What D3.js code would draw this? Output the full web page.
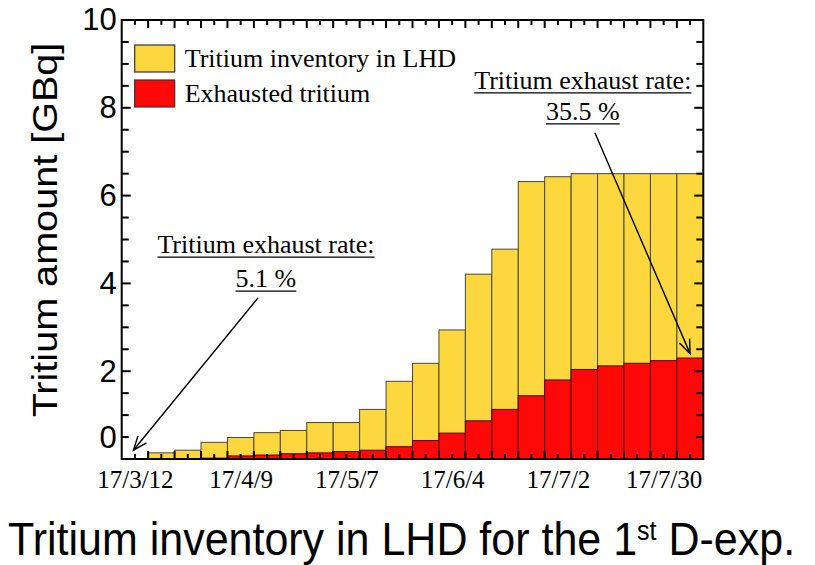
<!DOCTYPE html>
<html>
<head>
<meta charset="utf-8">
<script src="https://cdn.jsdelivr.net/npm/d3@7"></script>
<style>
  body { margin: 0; background: #fff; }
  svg { display: block; }
  .serif { font-family: "Liberation Serif", "Times New Roman", serif; }
  .sans { font-family: "Liberation Sans", Arial, sans-serif; }
</style>
</head>
<body>
<svg id="chart"></svg>
<script>
// centre date of every weekly bar
const weeks = ["2017-03-12", "2017-03-19", "2017-03-26", "2017-04-02", "2017-04-09", "2017-04-16",
    "2017-04-23", "2017-04-30", "2017-05-07", "2017-05-14", "2017-05-21", "2017-05-28",
    "2017-06-04", "2017-06-11", "2017-06-18", "2017-06-25", "2017-07-02", "2017-07-09",
    "2017-07-16", "2017-07-23", "2017-07-30", "2017-08-06"];
// GBq
const inventory = [0, 0.14, 0.2, 0.38, 0.49, 0.6, 0.65, 0.83, 0.83, 1.13, 1.77,
    2.18, 2.94, 4.21, 4.78, 6.32, 6.43, 6.5, 6.5, 6.5, 6.5, 6.5];
const exhausted = [0, 0, 0, 0.02, 0.07, 0.09, 0.12, 0.14, 0.17, 0.2, 0.28,
    0.42, 0.59, 0.87, 1.13, 1.44, 1.8, 2.04, 2.12, 2.18, 2.24, 2.3];

const yTicks = [0, 2, 4, 6, 8, 10];
const xTickDates = ["2017-03-12", "2017-04-09", "2017-05-07", "2017-06-04", "2017-07-02", "2017-07-30"];
const xTickLabels = ["17/3/12", "17/4/9", "17/5/7", "17/6/4", "17/7/2", "17/7/30"];
const legendLabels = ["Tritium inventory in LHD", "Exhausted tritium"];
const noteLines = [["Tritium exhaust rate:", "5.1 %"], ["Tritium exhaust rate:", "35.5 %"]];
const caption = ["Tritium inventory in LHD for the 1", "st", " D-exp."];

const DAY = 864e5;
const parse = d3.utcParse("%Y-%m-%d");
const colors = { inv: "#fdd73e", exh: "#ff0808", edge: "#48483a" };

function getConfig() {
    let width = 815;
    let height = 565;
    let margin = { top: 20, bottom: 106, left: 121.7, right: 111.7 };
    let bodyWidth = width - margin.left - margin.right;
    let bodyHeight = height - margin.top - margin.bottom;
    let container = d3.select('#chart')
        .attr('width', width)
        .attr('height', height);
    return { width, height, margin, bodyWidth, bodyHeight, container };
}

function getScales(data, config) {
    let first = data[0].date.getTime(), last = data[data.length - 1].date.getTime();
    let xScale = d3.scaleUtc()
        .domain([first - 3.5 * DAY, last + 3.5 * DAY])
        .range([0, config.bodyWidth]);
    let yScale = d3.scaleLinear()
        .domain([0, 10])
        .range([config.bodyHeight, 0]);
    return { xScale, yScale };
}

function drawBars(data, scales, body) {
    let { xScale, yScale } = scales;
    let bx = d => xScale(d.date.getTime() - 3.5 * DAY);
    let bw = d => xScale(d.date.getTime() + 3.5 * DAY) - bx(d);

    body.selectAll('.inv')
        .data(data.filter(d => d.inv > 0))
        .enter().append('rect')
        .attr('class', 'inv')
        .attr('x', bx).attr('width', bw)
        .attr('y', d => yScale(d.inv))
        .attr('height', d => yScale(0) - yScale(d.inv))
        .attr('fill', colors.inv)
        .attr('stroke', colors.edge).attr('stroke-width', 1);

    body.selectAll('.exh')
        .data(data.filter(d => d.exh > 0))
        .enter().append('rect')
        .attr('class', 'exh')
        .attr('x', bx).attr('width', bw)
        .attr('y', d => yScale(d.exh))
        .attr('height', d => yScale(0) - yScale(d.exh))
        .attr('fill', colors.exh)
        .attr('stroke', '#500').attr('stroke-width', 1);
}

function drawAxes(data, scales, config, body) {
    let { xScale, yScale } = scales;
    let { bodyWidth, bodyHeight } = config;

    // frame
    body.append('rect')
        .attr('width', bodyWidth).attr('height', bodyHeight)
        .attr('fill', 'none').attr('stroke', '#000').attr('stroke-width', 2);

    // labels
    body.append('g')
        .attr('transform', `translate(0,${bodyHeight})`)
        .call(d3.axisBottom(xScale)
            .tickValues(xTickDates.map(parse))
            .tickSize(0).tickPadding(11)
            .tickFormat((d, i) => xTickLabels[i]))
        .call(g => g.select('.domain').remove())
        .selectAll('text')
        .attr('class', 'serif')
        .attr('font-size', 25)
        .attr('fill', '#000');

    body.append('g')
        .call(d3.axisLeft(yScale).tickValues(yTicks).tickSize(0).tickPadding(5))
        .call(g => g.select('.domain').remove())
        .selectAll('text')
        .attr('class', 'sans')
        .attr('font-size', 31)
        .attr('fill', '#000')
        .attr('dy', d => d === 0 ? '-0.38em' : '0.32em');
}

// inward tick marks on all four sides, drawn as small filled rects
function drawTickMarks(scales, config, body) {
    let { xScale, yScale } = scales;
    let { bodyWidth, bodyHeight } = config;
    let [d0, d1] = xScale.domain().map(Number);
    let n = Math.round((d1 - d0) / (3.5 * DAY));

    // half-week ticks: bar edges long, bar centres short
    let xMarks = d3.range(1, n).map(i => ({ t: d0 + i * 3.5 * DAY, len: i % 2 === 0 ? 8 : 5 }));
    let xt = body.append('g').attr('class', 'x-marks');
    xt.selectAll('.xb').data(xMarks).enter().append('rect')
        .attr('class', 'xb')
        .attr('x', d => xScale(d.t) - 1).attr('width', 2)
        .attr('y', d => bodyHeight - d.len).attr('height', d => d.len)
        .attr('fill', '#000');
    xt.selectAll('.xtop').data(xMarks).enter().append('rect')
        .attr('class', 'xtop')
        .attr('x', d => xScale(d.t) - 1).attr('width', 2)
        .attr('y', 0).attr('height', d => d.len)
        .attr('fill', '#000');

    // every 0.5 GBq, longer at the labelled values
    let yMarks = d3.range(1, 20).map(i => ({ v: i * 0.5, len: i % 4 === 0 ? 9 : 7 }));
    let yt = body.append('g').attr('class', 'y-marks');
    yt.selectAll('.yl').data(yMarks).enter().append('rect')
        .attr('class', 'yl')
        .attr('x', 0).attr('width', d => d.len)
        .attr('y', d => yScale(d.v) - 1).attr('height', 2)
        .attr('fill', '#000');
    yt.selectAll('.yr').data(yMarks).enter().append('rect')
        .attr('class', 'yr')
        .attr('x', d => bodyWidth - d.len).attr('width', d => d.len)
        .attr('y', d => yScale(d.v) - 1).attr('height', 2)
        .attr('fill', '#000');
}

function drawLegend(body) {
    let fills = [colors.inv, colors.exh];
    let item = body.selectAll('.legend')
        .data(legendLabels)
        .enter().append('g')
        .attr('class', 'legend')
        .attr('transform', (d, i) => `translate(13,${25 + i * 35})`);
    item.append('rect')
        .attr('width', 40).attr('height', 27)
        .attr('fill', (d, i) => fills[i])
        .attr('stroke', '#333').attr('stroke-width', 1.2);
    item.append('text')
        .attr('class', 'serif')
        .attr('x', 50).attr('y', 22)
        .attr('font-size', 26)
        .text(d => d);
}

function drawNotes(data, scales, body) {
    let { xScale, yScale } = scales;
    let t0 = data[0].date.getTime();
    let at = (days, v) => [xScale(t0 + days * DAY), yScale(v)];
    let notes = [
        { text: at(34.7, 4.69), gap: 34, from: at(32.6, 3.67), to: at(-0.4, 0.2) },
        { text: at(118.6, 8.43), gap: 31, from: at(121.8, 7.43), to: at(147, 2.4) }
    ];

    let defs = body.append('defs');
    defs.append('marker')
        .attr('id', 'openArrow')
        .attr('viewBox', '-15 -8 17 16')
        .attr('refX', 0).attr('refY', 0)
        .attr('markerWidth', 17).attr('markerHeight', 16)
        .attr('markerUnits', 'userSpaceOnUse')
        .attr('orient', 'auto')
        .append('path')
        .attr('d', 'M-14,-5.5L0,0L-14,5.5')
        .attr('fill', 'none').attr('stroke', '#000').attr('stroke-width', 1.4);

    notes.forEach((n, i) => {
        noteLines[i].forEach((line, j) => {
            let t = body.append('text')
                .attr('class', 'serif')
                .attr('x', n.text[0]).attr('y', n.text[1] + j * n.gap)
                .attr('text-anchor', 'middle')
                .attr('font-size', 26)
                .text(line);
            let w = t.node().getComputedTextLength();
            body.append('line')
                .attr('x1', n.text[0] - w / 2).attr('x2', n.text[0] + w / 2)
                .attr('y1', n.text[1] + j * n.gap + 4).attr('y2', n.text[1] + j * n.gap + 4)
                .attr('stroke', '#000').attr('stroke-width', 1.3);
        });
        body.append('line')
            .attr('x1', n.from[0]).attr('y1', n.from[1])
            .attr('x2', n.to[0]).attr('y2', n.to[1])
            .attr('stroke', '#000').attr('stroke-width', 1.4)
            .attr('marker-end', 'url(#openArrow)');
    });
}

function drawTitles(config) {
    let { container } = config;
    container.append('text')
        .attr('class', 'sans')
        .attr('transform', 'translate(57,230) rotate(-90) scale(1.1,1)')
        .attr('text-anchor', 'middle')
        .attr('font-size', 36)
        .text('Tritium amount [GBq]');

    let cap = container.append('text')
        .attr('class', 'sans')
        .attr('transform', 'translate(8,555) scale(1,1.07)')
        .attr('font-size', 43);
    cap.append('tspan').text(caption[0]);
    cap.append('tspan').attr('font-size', 25).attr('dy', -14).text(caption[1]);
    cap.append('tspan').attr('dy', 14).text(caption[2]);
}

function drawChart() {
    let data = weeks.map((w, i) => ({ date: parse(w), inv: inventory[i], exh: exhausted[i] }));
    let config = getConfig();
    let scales = getScales(data, config);
    let body = config.container.append('g')
        .attr('transform', `translate(${config.margin.left},${config.margin.top})`);
    drawBars(data, scales, body);
    drawAxes(data, scales, config, body);
    drawLegend(body);
    drawNotes(data, scales, body);
    drawTickMarks(scales, config, body);
    drawTitles(config);
}

drawChart();
</script>
</body>
</html>
